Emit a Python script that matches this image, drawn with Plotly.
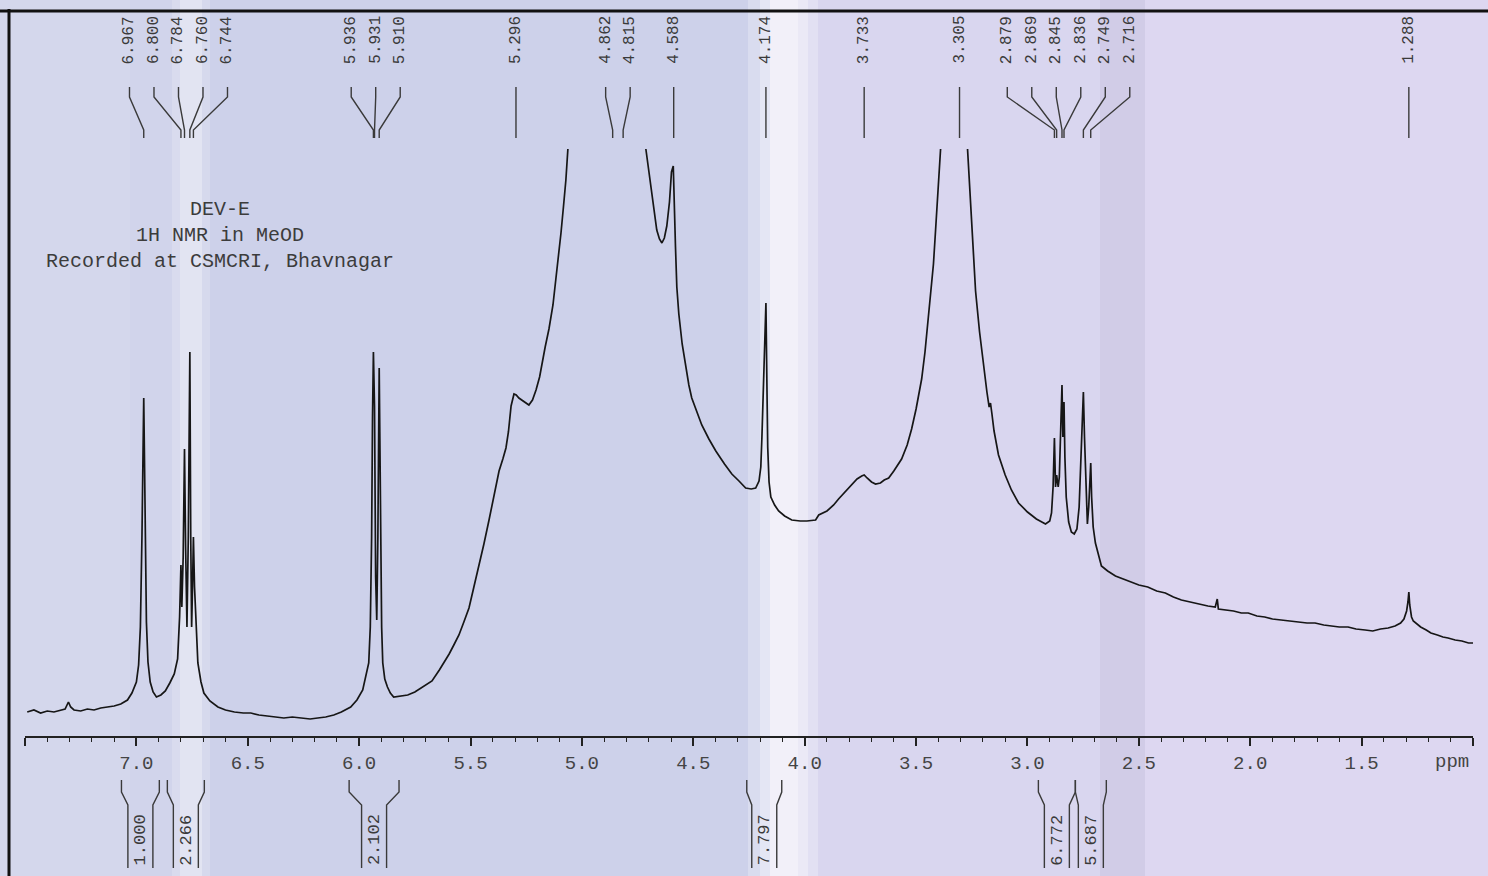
import plotly.graph_objects as go

# ---------------- data ----------------
ppm = [
    7.49, 7.46, 7.43, 7.40, 7.37, 7.34, 7.32, 7.305, 7.295, 7.28, 7.25, 7.22, 7.19, 7.16, 7.13, 7.10,
    7.07, 7.04, 7.02, 7.00, 6.99, 6.982, 6.975, 6.970, 6.967, 6.964, 6.960, 6.955, 6.948, 6.938, 6.925,
    6.91, 6.89, 6.87, 6.85, 6.83, 6.815, 6.806, 6.800, 6.796, 6.790, 6.784, 6.779, 6.773, 6.767, 6.760,
    6.756, 6.752, 6.748, 6.744, 6.739, 6.732, 6.724, 6.71, 6.697, 6.67, 6.634, 6.60, 6.56, 6.52, 6.486,
    6.45, 6.42, 6.38, 6.338, 6.30, 6.26, 6.22, 6.186, 6.15, 6.114, 6.08, 6.038, 6.01, 5.984, 5.965,
    5.957, 5.950, 5.944, 5.940, 5.936, 5.931, 5.926, 5.921, 5.916, 5.910, 5.905, 5.899, 5.894, 5.885,
    5.873, 5.86, 5.845, 5.82, 5.782, 5.75, 5.724, 5.70, 5.673, 5.64, 5.62, 5.596, 5.575, 5.552, 5.53,
    5.507, 5.485, 5.462, 5.44, 5.417, 5.395, 5.372, 5.355, 5.341, 5.33, 5.318, 5.305, 5.295, 5.283,
    5.26, 5.238, 5.222, 5.206, 5.19, 5.179, 5.165, 5.148, 5.13, 5.117, 5.105, 5.094, 5.083, 5.072, 5.063,
    None,
    4.713, 4.700, 4.686, 4.675, 4.664, 4.652, 4.641, 4.630, 4.619, 4.607, 4.598, 4.590, 4.585, 4.580,
    4.574, 4.565, 4.550, 4.534, 4.520, 4.507, 4.485, 4.462, 4.43, 4.399, 4.36, 4.327, 4.295, 4.265,
    4.24, 4.220, 4.205, 4.197, 4.192, 4.186, 4.180, 4.174, 4.170, 4.166, 4.160, 4.152, 4.135, 4.117,
    4.09, 4.058, 4.02, 3.99, 3.951, 3.937, 3.90, 3.87, 3.848, 3.82, 3.79, 3.765, 3.744, 3.733, 3.72,
    3.70, 3.682, 3.66, 3.643, 3.623, 3.60, 3.583, 3.565, 3.54, 3.520, 3.50, 3.475, 3.46, 3.449, 3.444,
    3.438, 3.43, 3.422, 3.413, 3.404, 3.396, 3.390,
    None,
    3.269, 3.262, 3.256, 3.245, 3.233, 3.215, 3.197, 3.182, 3.172, 3.166, 3.160, 3.150, 3.130, 3.10,
    3.072, 3.04, 3.00, 2.96, 2.919, 2.90, 2.892, 2.885, 2.879, 2.874, 2.869, 2.862, 2.857, 2.852, 2.848,
    2.845, 2.841, 2.836, 2.832, 2.826, 2.815, 2.803, 2.790, 2.778, 2.768, 2.760, 2.753, 2.749, 2.744,
    2.737, 2.731, 2.725, 2.720, 2.716, 2.712, 2.705, 2.695, 2.68, 2.668, 2.64, 2.605, 2.57, 2.534, 2.50,
    2.46, 2.42, 2.381, 2.345, 2.309, 2.27, 2.233, 2.19, 2.157, 2.148, 2.143, 2.11, 2.075, 2.04, 2.009,
    1.97, 1.935, 1.90, 1.861, 1.825, 1.785, 1.745, 1.709, 1.67, 1.635, 1.600, 1.561, 1.525, 1.484, 1.45,
    1.415, 1.381, 1.35, 1.325, 1.310, 1.298, 1.292, 1.288, 1.284, 1.276, 1.268, 1.256, 1.235, 1.21,
    1.189, 1.16, 1.135, 1.112, 1.08, 1.05, 1.02, 1.00,
]
intensity = [
    25, 27, 24, 26, 25, 27, 28, 35, 30, 27, 26, 28, 27, 29, 30, 31,
    33, 37, 44, 55, 72, 110, 200, 290, 339, 285, 190, 115, 75, 55, 45,
    40, 42, 46, 54, 63, 78, 120, 172, 130, 180, 288, 190, 110, 200, 385,
    200, 110, 150, 200, 150, 105, 74, 55, 44, 36, 30, 27, 25, 24, 24,
    22, 21, 20, 19, 20, 19, 18, 19, 20, 22, 25, 30, 37, 47, 65,
    74, 110, 200, 320, 385, 330, 160, 117, 200, 369, 220, 110, 74, 58,
    50, 44, 40, 41, 42, 45, 49, 52, 56, 67, 74, 83, 92, 102, 115,
    129, 150, 171, 193, 217, 242, 266, 278, 289, 305, 331, 343, 342, 339,
    335, 332, 337, 347, 360, 374, 390, 408, 432, 458, 480, 504, 530, 557, 588,
    None,
    588, 565, 542, 524, 507, 498, 494, 499, 511, 535, 565, 571, 540, 490,
    450, 423, 393, 370, 352, 339, 325, 312, 298, 286, 273, 263, 256, 249,
    248, 249, 256, 270, 300, 340, 400, 434, 360, 290, 255, 240, 232, 226,
    221, 217, 216, 216, 217, 222, 226, 232, 238, 245, 252, 258, 261, 262, 259,
    255, 253, 254, 257, 259, 266, 272, 278, 292, 308, 328, 358, 385, 410, 423,
    440, 456, 473, 505, 538, 565, 588,
    None,
    588, 560, 530, 488, 446, 405, 370, 345, 330, 334, 324, 306, 282, 262,
    247, 234, 225, 218, 213, 216, 224, 250, 299, 250, 262, 250, 260, 300, 340,
    352, 300, 335, 280, 240, 215, 205, 203, 208, 230, 280, 330, 345, 300,
    240, 213, 230, 260, 274, 240, 210, 194, 180, 171, 166, 161, 158, 155, 152,
    150, 146, 144, 140, 137, 135, 133, 131, 130, 138, 128, 127, 126, 124, 124,
    121, 120, 118, 117, 116, 115, 114, 114, 112, 111, 110, 110, 108, 107, 106,
    108, 109, 111, 114, 118, 126, 135, 145, 132, 120, 116, 114, 110, 107,
    104, 102, 100, 99, 97, 96, 94, 94,
]

peak_shifts = [6.967, 6.800, 6.784, 6.760, 6.744, 5.936, 5.931, 5.910, 5.296, 4.862, 4.815,
               4.588, 4.174, 3.733, 3.305, 2.879, 2.869, 2.845, 2.836, 2.749, 2.716, 1.288]
peak_group = [0, 0, 0, 0, 0, 1, 1, 1, 2, 3, 3, 4, 5, 6, 7, 8, 8, 8, 8, 8, 8, 9]

integral_values = ["1.000", "2.266", "2.102", "7.797", "6.772", "5.687"]
integral_from = [7.067, 6.861, 6.045, 4.260, 2.951, 2.785]
integral_to = [6.897, 6.695, 5.821, 4.103, 2.785, 2.646]

axis_ticks = [7.5, 7.0, 6.5, 6.0, 5.5, 5.0, 4.5, 4.0, 3.5, 3.0, 2.5, 2.0, 1.5, 1.0]
axis_tick_text = ["", "7.0", "6.5", "6.0", "5.5", "5.0", "4.5", "4.0", "3.5", "3.0", "2.5", "2.0", "1.5", ""]
unit_label = "ppm"
header_lines = ["DEV-E", "1H NMR in MeOD", "Recorded at CSMCRI, Bhavnagar"]

# ---------------- geometry ----------------
W, H = 1488, 876
L, R = 25, 15
PW = W - L - R
X_LEFT, X_RIGHT = 7.5, 1.0
PPM_PER_PX = (X_LEFT - X_RIGHT) / PW
AXIS_PX = 737          # pixel row of the ppm axis line
Y_MIN, Y_MAX = AXIS_PX - H, AXIS_PX   # intensity units = pixels above the axis


def px_to_ppm(px):
    return X_LEFT - (px - L) * PPM_PER_PX


def row_to_y(row):
    return AXIS_PX - row


def paper_x(px):
    return (px - L) / PW


def paper_y(row):
    return (H - row) / H


MONO = "Liberation Mono, Courier New, monospace"

fig = go.Figure()

# spectrum
fig.add_trace(go.Scatter(x=ppm, y=intensity, mode="lines", connectgaps=False,
                         line=dict(color="#161616", width=1.7), hoverinfo="skip", showlegend=False))

# peak labels with connector lines
spacing = 24.5 * PPM_PER_PX
groups = {}
for i, g in enumerate(peak_group):
    groups.setdefault(g, []).append(i)
cx, cy = [], []
for g, idx in groups.items():
    n = len(idx)
    centre = sum(peak_shifts[i] for i in idx) / n
    for k, i in enumerate(idx):
        p = peak_shifts[i]
        lx = p if n == 1 else centre + ((n - 1) / 2 - k) * spacing
        if n == 1:
            cx += [p, p, None]
            cy += [row_to_y(87), row_to_y(138), None]
        else:
            cx += [lx, lx, p, p, None]
            cy += [row_to_y(87), row_to_y(97), row_to_y(130), row_to_y(138), None]
        fig.add_annotation(x=lx, y=row_to_y(40), text=f"{p:.3f}", textangle=-90, showarrow=False,
                           font=dict(family=MONO, size=16, color="#3a3a3a"),
                           xanchor="center", yanchor="middle")
fig.add_trace(go.Scatter(x=cx, y=cy, mode="lines", line=dict(color="#3a3a3a", width=1.4),
                         hoverinfo="skip", showlegend=False))

# integral brackets below the axis
ix, iy = [], []
inner = 12.5 * PPM_PER_PX
for val, a, b in zip(integral_values, integral_from, integral_to):
    mid = (a + b) / 2
    ix += [a, a, mid + inner, mid + inner, None, b, b, mid - inner, mid - inner, None]
    iy += [row_to_y(780), row_to_y(792), row_to_y(805), row_to_y(868), None,
           row_to_y(780), row_to_y(792), row_to_y(805), row_to_y(868), None]
    fig.add_annotation(x=mid, y=row_to_y(840), text=val, textangle=-90, showarrow=False,
                       font=dict(family=MONO, size=17, color="#3a3a3a"),
                       xanchor="center", yanchor="middle")
fig.add_trace(go.Scatter(x=ix, y=iy, mode="lines", line=dict(color="#3a3a3a", width=1.4),
                         hoverinfo="skip", showlegend=False))

# header text (one block, three lines)
fig.add_annotation(x=px_to_ppm(220), y=row_to_y(235), text="<br>".join(header_lines), showarrow=False,
                   font=dict(family=MONO, size=20, color="#3c3c3c"), align="center",
                   xanchor="center", yanchor="middle")

# unit label
fig.add_annotation(x=px_to_ppm(1452), y=row_to_y(762), text=unit_label, showarrow=False,
                   font=dict(family=MONO, size=19, color="#444"), xanchor="center", yanchor="middle")

# paper background (scanned sheet): base bands plus soft light folds
bands = [(0, 180, "#d1d4eb", 1), (180, 770, "#cdd1ea", 1), (770, 1100, "#d9d6ef", 1),
         (1100, 1145, "#d1cce7", 1), (1145, W, "#ddd7f1", 1),
         (172, 210, "#ffffff", 0.18), (180, 202, "#ffffff", 0.3),
         (748, 818, "#ffffff", 0.25), (760, 808, "#ffffff", 0.3), (770, 798, "#ffffff", 0.35),
         (0, 130, "#ffffff", 0.08)]
shapes = []
for x0, x1, col, op in bands:
    shapes.append(dict(type="rect", xref="paper", yref="paper", x0=paper_x(x0), x1=paper_x(x1),
                       y0=0, y1=1, fillcolor=col, opacity=op, line=dict(width=0), layer="below"))
# frame lines (top and left)
shapes.append(dict(type="line", xref="paper", yref="paper", x0=paper_x(0), x1=paper_x(W),
                   y0=paper_y(11), y1=paper_y(11), line=dict(color="#111", width=3)))
shapes.append(dict(type="line", xref="paper", yref="paper", x0=paper_x(9), x1=paper_x(9),
                   y0=0, y1=paper_y(9), line=dict(color="#111", width=3)))

minor_ticks = [round(X_LEFT - 0.1 * k, 1) for k in range(66)]
minor_ticks = [t for t in minor_ticks if t not in axis_ticks]

fig.update_layout(
    width=W, height=H, autosize=False,
    margin=dict(l=L, r=R, t=0, b=0, pad=0),
    paper_bgcolor="#d6d6ee", plot_bgcolor="rgba(0,0,0,0)",
    shapes=shapes,
    xaxis=dict(range=[X_LEFT, X_RIGHT], anchor="free", position=(H - AXIS_PX) / H,
               showline=True, linecolor="#222", linewidth=1.5,
               ticks="outside", ticklen=8, tickwidth=1.5, tickcolor="#222",
               tickmode="array", tickvals=axis_ticks, ticktext=axis_tick_text,
               tickfont=dict(family=MONO, size=19, color="#444"), ticklabelstandoff=0,
               showgrid=False, zeroline=False, fixedrange=True,
               minor=dict(tickmode="array", tickvals=minor_ticks, ticks="outside", ticklen=4,
                          tickwidth=1.2, tickcolor="#222", showgrid=False)),
    yaxis=dict(range=[Y_MIN, Y_MAX], visible=False, fixedrange=True),
    showlegend=False,
)

fig.write_html("out.html", config={"displayModeBar": False},
               post_script="document.body.style.margin='0';document.body.style.overflow='hidden';")
